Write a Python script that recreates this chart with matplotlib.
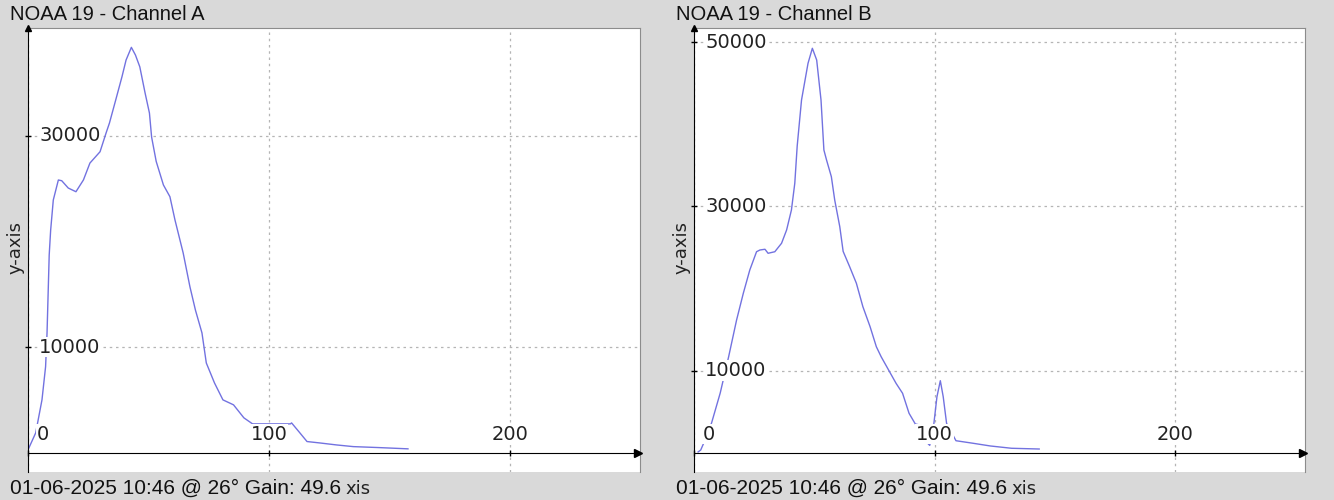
import matplotlib.pyplot as plt

# NOAA 19 histogram readings (value bin, count)
a_x = [0, 3.2, 5.8, 7.3, 7.9, 8.8, 9.4, 10.5, 12.6, 14, 16.7, 19.9, 23, 25.7, 29.9,
       32.4, 33.8, 36.4, 39, 40.7, 42.9, 44.6, 46.4, 48.6, 50.4, 51.3, 53.2, 56.2,
       58.9, 61, 64.4, 67.2, 69.5, 72.2, 74, 77.4, 80.9, 85.3, 89.6, 93.2, 98.4,
       104, 108.9, 109.4, 112.4, 115.8, 121, 128, 135, 145.5, 157.7]
a_y = [290, 1900, 5020, 8160, 11350, 18720, 21060, 23920, 25810, 25740, 25050, 24700,
       25810, 27410, 28480, 30250, 31190, 33370, 35570, 37150, 38350, 37620, 36510,
       34030, 32140, 29870, 27570, 25340, 24230, 22030, 18910, 15720, 13500, 11350,
       8510, 6620, 5020, 4550, 3320, 2750, 2750, 2750, 2750, 2840, 2020, 1080, 950,
       760, 600, 510, 390]

b_x = [1.7, 2.8, 4.6, 7.3, 10.9, 14.4, 17.7, 20.5, 23.2, 26, 27.4, 29.5, 30.8, 33.6,
       36.4, 38.5, 40.5, 41.9, 42.9, 44.7, 47.4, 49.2, 51, 52.8, 54, 55.1, 57.1, 58.5,
       60.6, 62, 64.7, 67.5, 70.2, 73.2, 75.8, 77.8, 84, 86.7, 89.4, 92, 93.8, 96, 98,
       99.7, 101, 102.4, 103.6, 105, 108.9, 116, 123.2, 132, 143.5]
b_y = [100, 340, 1560, 3630, 7280, 11700, 16170, 19430, 22270, 24490, 24700, 24790,
       24300, 24490, 25520, 27140, 29570, 32830, 37370, 42970, 47440, 49270, 47840,
       42970, 36880, 35660, 33630, 30780, 27540, 24530, 22670, 20650, 17800, 15360,
       12920, 11700, 8460, 7250, 4810, 3510, 3390, 1500, 900, 3510, 6830, 8780, 6830,
       3590, 1470, 1160, 830, 550, 460]

titles = ["NOAA 19 - Channel A", "NOAA 19 - Channel B"]
footer = "01-06-2025 10:46 @ 26\u00b0 Gain: 49.6"
x_ticks = [0, 100, 200]
a_yticks = [10000, 30000]
b_yticks = [10000, 30000, 50000]

BG = '#d9d9d9'
LINE = '#7272e0'
W, H = 1334, 500

fig = plt.figure(figsize=(13.34, 5), dpi=100, facecolor=BG)


def panel(left_px, right_px, xs, ys, yticks, ylim, title):
    ax = fig.add_axes([left_px / W, 28 / H, (right_px - left_px) / W, 444 / H])
    ax.set_facecolor('white')
    ax.plot(xs, ys, color=LINE, lw=1, zorder=3)
    ax.set_xlim(0, 254)
    ax.set_ylim(*ylim)

    ax.spines['bottom'].set_position(('data', 0))
    ax.spines['bottom'].set_zorder(4)
    ax.spines['left'].set_zorder(4)
    for s in ['top', 'right']:
        ax.spines[s].set_color('#8c8c8c')
        ax.spines[s].set_linewidth(0.8)

    ax.set_xticks(x_ticks)
    ax.set_yticks(yticks)
    ax.tick_params(direction='inout', length=5, width=1,
                   labelbottom=False, labelleft=False)
    ax.grid(True, color='#b5b5b5', linestyle=(0, (2, 3)), lw=0.9, zorder=1)

    # axis arrows
    ax.plot(0.997, 0, '>k', ms=6, transform=ax.get_yaxis_transform(), clip_on=False, zorder=5)
    ax.plot(0, 1, '^k', ms=4, transform=ax.get_xaxis_transform(), clip_on=False, zorder=5)

    lab = dict(fontsize=14, color='#222222', zorder=6,
               bbox=dict(facecolor='white', edgecolor='none', pad=0.5))
    for t in x_ticks:
        if t == 0:
            ax.annotate(str(t), (t, 0), xytext=(6, 13.5), textcoords='offset points',
                        ha='left', va='center', **lab)
        else:
            ax.annotate(str(t), (t, 0), xytext=(0, 13.5), textcoords='offset points',
                        ha='center', va='center', **lab)
    for t in yticks:
        ax.annotate(str(t), (0, t), xytext=(8, 0), textcoords='offset points',
                    ha='left', va='center', **lab)

    x0 = (left_px - 18) / W
    fig.text(x0, 1 - 14 / H, title, fontsize=14.5, family='Liberation Sans',
             ha='left', va='center', color='#111111')
    fig.text((left_px - 12) / W, 1 - 248 / H, 'y-axis', fontsize=13, rotation=90,
             ha='center', va='center', color='#222222')
    fig.text(x0, 1 - 494 / H, footer, fontsize=15, family='Liberation Sans',
             ha='left', va='baseline', color='#111111')
    # visible tail of the x-axis label
    fig.text((left_px + 317) / W, 1 - 494 / H, 'xis', fontsize=13,
             ha='left', va='baseline', color='#222222')
    return ax


panel(28, 640, a_x, a_y, a_yticks, (-1800, 40180), titles[0])
panel(694, 1305, b_x, b_y, b_yticks, (-2340, 51740), titles[1])

fig.savefig('out.png', dpi=100, facecolor=BG)
